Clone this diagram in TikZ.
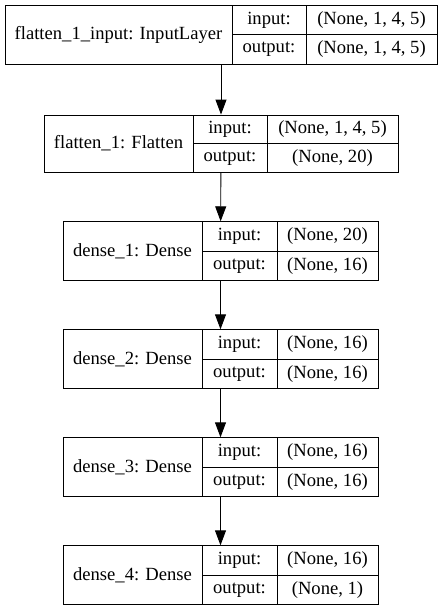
\documentclass[tikz,border=0pt]{standalone}
\usepackage{fontspec}
\setmainfont{Liberation Serif}
\usetikzlibrary{arrows.meta}

\begin{document}
\begin{tikzpicture}[x=1pt,y=-1pt]
	\tikzset{>={Triangle[length=15pt,width=11pt]}}
	\tikzset{layer/.style={draw,line width=0.9pt,inner sep=0pt,minimum height=59pt}}
	\tikzset{txt/.style={inner sep=0pt,font=\fontsize{18.6}{22}\selectfont}}
	\useasboundingbox (0,0) rectangle (442,611);
	% flatten_1_input
	\node[layer,minimum width=432pt] (inp) at (221,34.5) {};
	\draw[line width=0.9pt] (232,5) -- (232,64);
	\draw[line width=0.9pt] (306,5) -- (306,64);
	\draw[line width=0.9pt] (232,34.5) -- (437,34.5);
	\node[txt] (inp-name) at (118.5,34.5) {flatten\_1\_input: InputLayer};
	\node[txt] (inp-in) at (269,20) {input:};
	\node[txt] (inp-out) at (269,49.5) {output:};
	\node[txt] (inp-inv) at (371.5,20) {(None, 1, 4, 5)};
	\node[txt] (inp-outv) at (371.5,49.5) {(None, 1, 4, 5)};
	% flatten_1
	\node[layer,minimum width=354pt,minimum height=57pt] (flat) at (221,143.5) {};
	\draw[line width=0.9pt] (193,115) -- (193,172);
	\draw[line width=0.9pt] (267,115) -- (267,172);
	\draw[line width=0.9pt] (193,143.5) -- (398,143.5);
	\node[txt] (flat-name) at (118.5,143.5) {flatten\_1: Flatten};
	\node[txt] (flat-in) at (230,129) {input:};
	\node[txt] (flat-out) at (230,158) {output:};
	\node[txt] (flat-inv) at (332.5,129) {(None, 1, 4, 5)};
	\node[txt] (flat-outv) at (332.5,158) {(None, 20)};
	% dense layers
	\foreach \i/\t/\a/\b in {1/222/20/16, 2/330/16/16, 3/438/16/16, 4/546/16/1}{
		\node[layer,minimum width=315pt] (dense\i) at (220.5,\t+29.25) {};
		\draw[line width=0.9pt] (202,\t) -- (202,\t+58.5);
		\draw[line width=0.9pt] (277,\t) -- (277,\t+58.5);
		\draw[line width=0.9pt] (202,\t+29.25) -- (378,\t+29.25);
		\node[txt] (dense\i-name) at (132.5,\t+29.25) {dense\_\i: Dense};
		\node[txt] (dense\i-in) at (239.5,\t+14.5) {input:};
		\node[txt] (dense\i-out) at (239.5,\t+44) {output:};
		\node[txt] (dense\i-inv) at (327.5,\t+14.5) {(None, \a)};
		\node[txt] (dense\i-outv) at (327.5,\t+44) {(None, \b)};
	}
	% arrows
	\draw[->,line width=0.9pt] (inp) -- (flat);
	\draw[->,line width=0.9pt] (flat) -- (dense1);
	\draw[->,line width=0.9pt] (dense1) -- (dense2);
	\draw[->,line width=0.9pt] (dense2) -- (dense3);
	\draw[->,line width=0.9pt] (dense3) -- (dense4);
\end{tikzpicture}
\end{document}
